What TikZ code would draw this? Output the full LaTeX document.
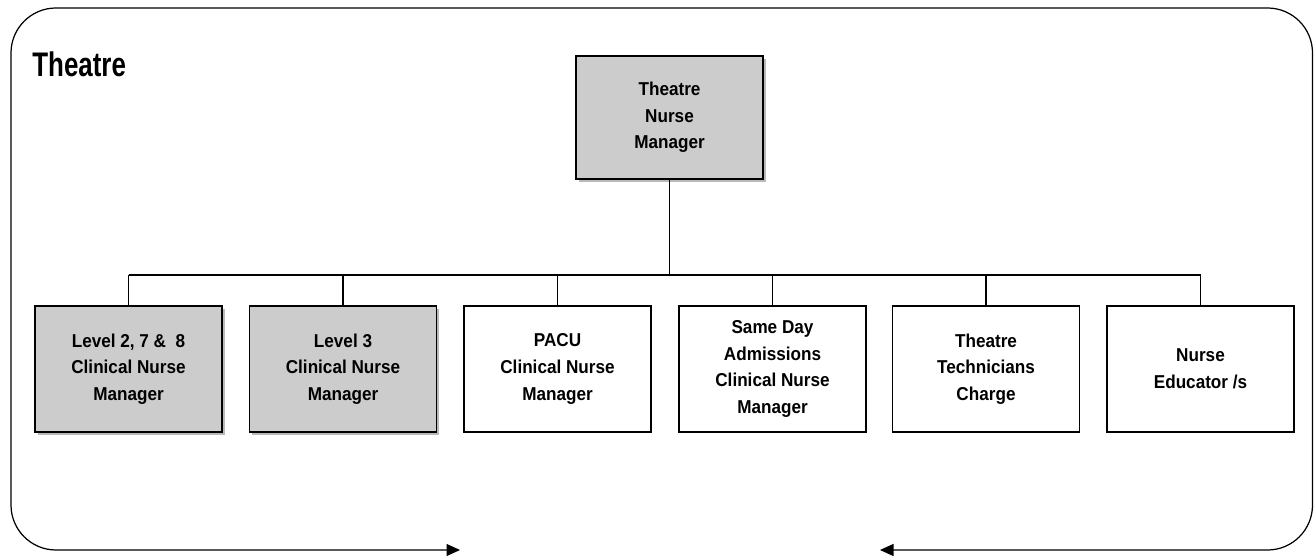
\documentclass[tikz,border=0pt]{standalone}
\usepackage{fontspec}
\setmainfont{Liberation Sans}
\newfontfamily\unitfamily[FakeStretch=0.92]{Liberation Sans}
\newfontfamily\areafamily[FakeStretch=0.76]{Liberation Sans}
\usetikzlibrary{arrows.meta,shadows}

\newcommand{\unitfont}{\unitfamily\fontsize{10.6}{15.2}\selectfont\bfseries}
\newcommand{\areafont}{\areafamily\fontsize{19.4}{22}\selectfont\bfseries}

\tikzset{
  unitbox/.style={draw, line width=0.6pt, fill=white, minimum width=3.74cm, minimum height=2.52cm,
                  align=center, inner sep=0pt, font=\unitfont},
  greyunit/.style={unitbox, fill=gray!40,
                  general shadow={fill=gray!55, shadow xshift=1.6pt, shadow yshift=-1.6pt}},
  branch/.style={line width=0.6pt},
}

\begin{document}
\begin{tikzpicture}
    \useasboundingbox (0,0) rectangle (26.28,11.14);
    % outer frame, bottom edge ends in two arrows
    \draw [line width=0.7pt, rounded corners=0.9cm, {Triangle[length=0.27cm,width=0.24cm]}-{Triangle[length=0.27cm,width=0.24cm]}]
        (9.2,0.14) -- (0.22,0.14) -- (0.22,10.98) -- (26.25,10.98) -- (26.25,0.14) -- (17.6,0.14);
    \node [anchor=base west, inner sep=0pt, font=\areafont] (area) at (0.64,9.6) {Theatre};

    \node [greyunit, minimum height=2.46cm] (tnm) at (13.39,8.79) {Theatre\\Nurse\\Manager};

    \node [greyunit] (lvl278) at (2.57,3.76) {Level 2, 7 \&~ 8\\Clinical Nurse\\Manager};
    \node [greyunit] (lvl3) at (6.86,3.76) {Level 3\\Clinical Nurse\\Manager};
    \node [unitbox] (pacu) at (11.15,3.76) {PACU\\Clinical Nurse\\Manager};
    \node [unitbox] (sda) at (15.45,3.76) {Same Day\\Admissions\\Clinical Nurse\\Manager};
    \node [unitbox] (tech) at (19.72,3.76) {Theatre\\Technicians\\Charge};
    \node [unitbox] (educ) at (24.01,3.76) {Nurse\\Educator /s};

    \coordinate (bus) at (0,5.64);
    \draw [line width=0.9pt] (tnm.south) -- (tnm.south |- bus);
    \draw [branch] (lvl278.north |- bus) -- (educ.north |- bus);
    \foreach \u in {lvl278,lvl3,pacu,sda,tech,educ}
        \draw [branch] (\u.north) -- (\u.north |- bus);
\end{tikzpicture}
\end{document}
